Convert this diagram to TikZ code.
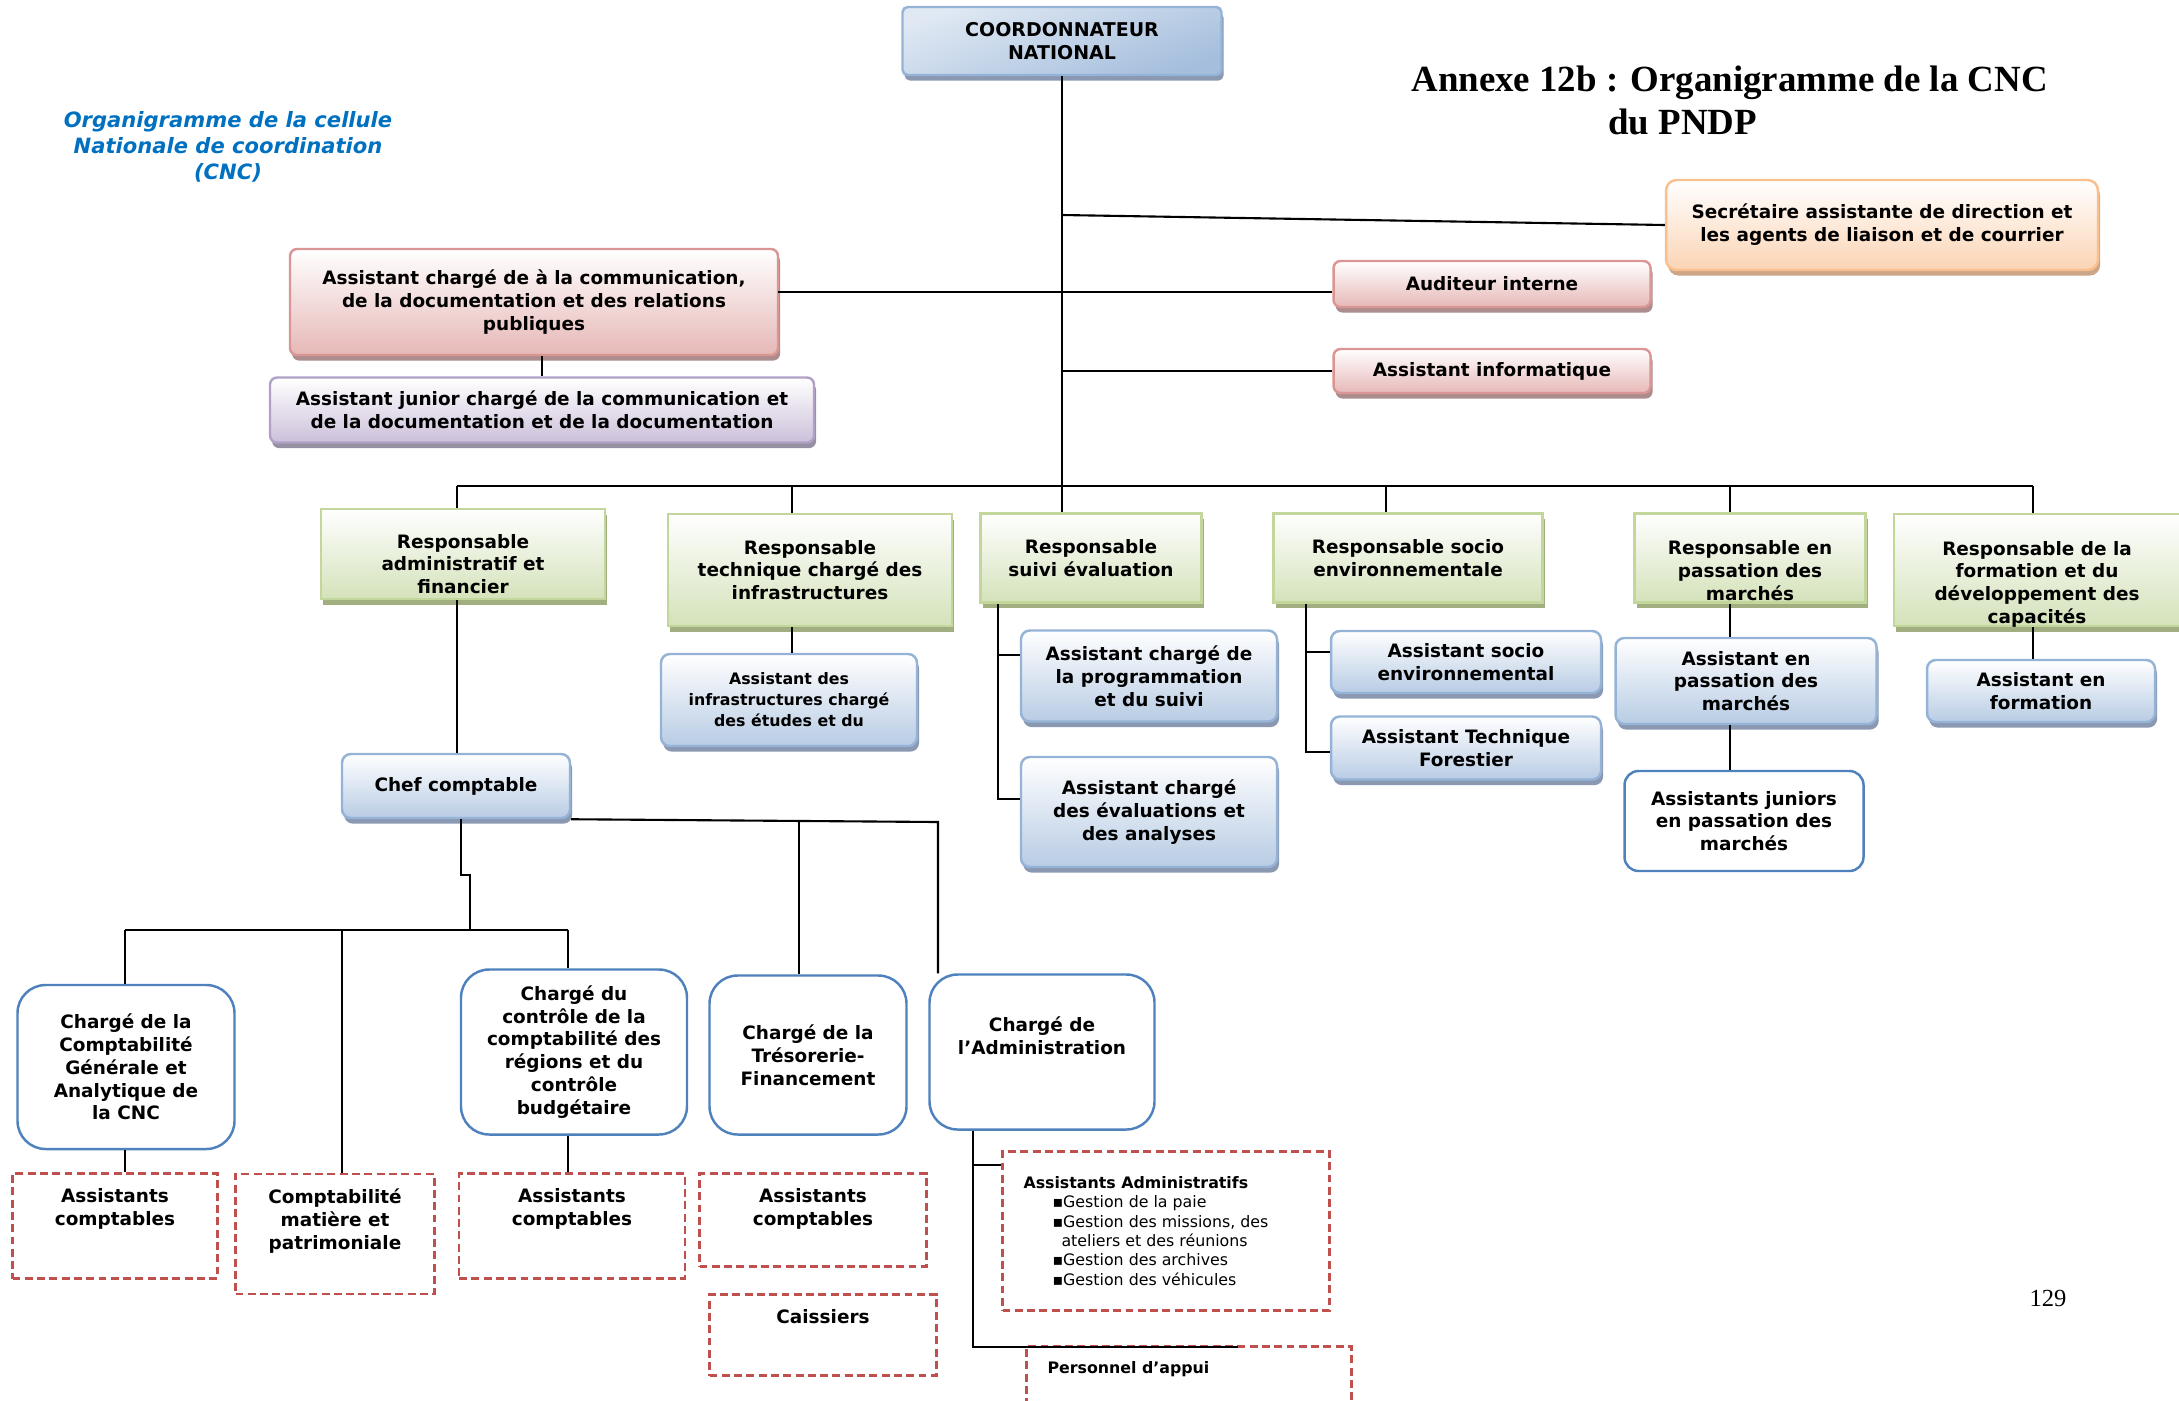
\documentclass[tikz,border=0pt]{standalone}
\usepackage{fontspec}
\setmainfont{DejaVu Sans}
\newfontfamily\titrefont{Liberation Serif}
\usetikzlibrary{shadows}

\definecolor{vertB}{RGB}{195,214,155}
\definecolor{vertF}{RGB}{212,226,186}
\definecolor{vertO}{RGB}{160,174,128}
\definecolor{bleuB}{RGB}{149,179,215}
\definecolor{bleuF}{RGB}{184,204,228}
\definecolor{bleuO}{RGB}{138,152,178}
\definecolor{roseB}{RGB}{217,150,148}
\definecolor{roseF}{RGB}{230,184,183}
\definecolor{roseO}{RGB}{172,140,140}
\definecolor{violB}{RGB}{178,161,199}
\definecolor{violF}{RGB}{204,192,218}
\definecolor{violO}{RGB}{150,145,162}
\definecolor{oranB}{RGB}{250,191,143}
\definecolor{oranF}{RGB}{251,212,180}
\definecolor{oranO}{RGB}{205,165,135}
\definecolor{cadre}{RGB}{79,129,189}
\definecolor{rouge}{RGB}{192,80,77}
\definecolor{titreB}{RGB}{0,112,192}

% texte en haut d'une boite (largeur, hauteur, marge en px)
\newcommand{\enhaut}[4]{\parbox[c][\dimexpr0.02cm*#2\relax][t]{\dimexpr0.02cm*#1\relax}{\centering\vspace*{\dimexpr0.02cm*#3\relax}#4}}

\tikzset{
  dim/.style 2 args={minimum width=#1*0.02cm, minimum height=#2*0.02cm},
  boite/.style={align=center, inner sep=2pt, line width=1.4pt},
  ombre/.style={drop shadow={shadow xshift=1.2pt, shadow yshift=-3.2pt, fill=#1, opacity=1}},
  vert/.style={boite, draw=vertB, top color=white, bottom color=vertF, ombre=vertO},
  bleu/.style={boite, rounded corners=5pt, draw=bleuB, top color=white, bottom color=bleuF, ombre=bleuO},
  rose/.style={boite, rounded corners=4pt, draw=roseB, top color=white, bottom color=roseF, ombre=roseO},
  viol/.style={boite, rounded corners=4pt, draw=violB, top color=white, bottom color=violF, ombre=violO},
  oran/.style={boite, rounded corners=6pt, draw=oranB, top color=white, bottom color=oranF, ombre=oranO},
  charge/.style={boite, rounded corners=16pt, draw=cadre, fill=white},
  pointille/.style={draw=rouge, dash pattern=on 4.5pt off 2.5pt, line width=1.5pt, inner sep=0pt},
  lien/.style={line width=1.2pt},
}

\begin{document}
\begin{tikzpicture}[x=0.02cm, y=-0.02cm, font=\fontsize{10.5}{13}\selectfont\bfseries]
\useasboundingbox (0,0) rectangle (2179,1400);

% titres
\node[align=center, text=titreB, font=\fontsize{12}{14.7}\selectfont\bfseries\itshape] (leg) at (228,147)
  {Organigramme de la cellule\\Nationale de coordination\\(CNC)};
\node[anchor=west, align=left, inner sep=0pt, font=\titrefont\fontsize{21}{24.5}\selectfont\bfseries] (titre) at (1411,100)
  {Annexe 12b : Organigramme de la CNC\\\hspace*{3.94cm}du PNDP};
\node[font=\titrefont\fontsize{14}{16}\selectfont] (page) at (2048,1298) {129};

% direction
\node[bleu, rounded corners=3pt, dim={319}{68}, top color=bleuF!45, bottom color=bleuB!85, shading angle=20,
  font=\fontsize{10.8}{13}\selectfont\bfseries] (cn) at (1062,41) {COORDONNATEUR\\NATIONAL};
\node[oran, dim={432}{90}] (sec) at (1882,225) {Secrétaire assistante de direction et\\les agents de liaison et de courrier};
\node[rose, dim={317}{46}] (aud) at (1492,284) {Auditeur interne};
\node[rose, dim={317}{44}] (inf) at (1492,371) {Assistant informatique};
\node[rose, dim={488}{106}] (com) at (534,302) {Assistant chargé de à la communication,\\de la documentation et des relations\\publiques};
\node[viol, dim={544}{65}] (jun) at (542,410) {Assistant junior chargé de la communication et\\de la documentation et de la documentation};

% responsables
\node[vert, inner sep=0pt] (ra) at (463,554) {\enhaut{284}{90}{25}{Responsable\\administratif et\\financier}};
\node[vert, dim={284}{112}] (rt) at (810,570) {Responsable\\technique chargé des\\infrastructures};
\node[vert, dim={221}{89}] (rs) at (1091,558) {Responsable\\suivi évaluation};
\node[vert, dim={269}{89}] (re) at (1408,558) {Responsable socio\\environnementale};
\node[vert, inner sep=0pt] (rp) at (1750,558) {\enhaut{231}{89}{27}{Responsable en\\passation des\\marchés}};
\node[vert, inner sep=0pt] (rf) at (2037,570) {\enhaut{286}{112}{27}{Responsable de la\\formation et du\\développement des\\capacités}};

% assistants
\node[bleu, dim={256}{92}, font=\fontsize{9}{12}\selectfont\bfseries] (ai) at (789,700) {Assistant des\\infrastructures chargé\\des études et du};
\node[bleu, dim={256}{91}] (ap) at (1149,676) {Assistant chargé de\\la programmation\\et du suivi};
\node[bleu, dim={256}{110}] (av) at (1149,812) {Assistant chargé\\des évaluations et\\des analyses};
\node[bleu, dim={270}{62}] (as) at (1466,662) {Assistant socio\\environnemental};
\node[bleu, dim={270}{63}] (atf) at (1466,748) {Assistant Technique\\Forestier};
\node[bleu, dim={261}{86}] (apm) at (1746,681) {Assistant en\\passation des\\marchés};
\node[bleu, dim={228}{62}] (af) at (2041,691) {Assistant en\\formation};
\node[boite, draw=cadre, fill=white, rounded corners=8pt, dim={239}{100}] (jp) at (1744,821) {Assistants juniors\\en passation des\\marchés};
\node[bleu, dim={228}{64}] (cc) at (456,786) {Chef comptable};

% charges
\node[charge, dim={217}{164}] (cg) at (126,1067) {Chargé de la\\Comptabilité\\Générale et\\Analytique de\\la CNC};
\node[charge, dim={226}{165}] (cr) at (574,1052) {Chargé du\\contrôle de la\\comptabilité des\\régions et du\\contrôle\\budgétaire};
\node[charge, dim={197}{159}] (ct) at (808,1055) {Chargé de la\\Trésorerie-\\Financement};
\node[charge, inner sep=0pt] (ca) at (1042,1052) {\enhaut{225}{155}{42}{Chargé de\\l’Administration}};

% cadres pointilles
\node[pointille] (ac1) at (115,1226) {\enhaut{205}{105}{15}{Assistants\\comptables}};
\node[pointille] (cm) at (335,1234) {\enhaut{199}{120}{15}{Comptabilité\\matière et\\patrimoniale}};
\node[pointille] (ac2) at (572,1226) {\enhaut{226}{105}{15}{Assistants\\comptables}};
\node[pointille] (ac3) at (813,1220) {\enhaut{227}{93}{15}{Assistants\\comptables}};
\node[pointille] (cs) at (823,1335) {\enhaut{227}{81}{15}{Caissiers}};
\node[pointille] (aa) at (1166,1231) {\parbox[c][\dimexpr0.02cm*159\relax][c]{\dimexpr0.02cm*327\relax}{\raggedright\fontsize{9}{11}\selectfont
  \hspace*{0.42cm}Assistants Administratifs\\\mdseries
  \hspace*{1cm}▪Gestion de la paie\\
  \hspace*{1cm}▪Gestion des missions, des\\
  \hspace*{1.18cm}ateliers et des réunions\\
  \hspace*{1cm}▪Gestion des archives\\
  \hspace*{1cm}▪Gestion des véhicules}};
\node[pointille] (pa) at (1189,1383) {\parbox[c][\dimexpr0.02cm*73\relax][t]{\dimexpr0.02cm*325\relax}{\raggedright\fontsize{9}{11}\selectfont
  \vspace*{0.3cm}\hspace*{0.42cm}Personnel d’appui}};

% liaisons
\coordinate (d1) at (457,486);
\coordinate (d2) at (792,486);
\coordinate (d3) at (1062,486);
\coordinate (d4) at (1386,486);
\coordinate (d5) at (1730,486);
\coordinate (d6) at (2033,486);
\coordinate (s0) at (1062,215);
\coordinate (a0) at (778,292);

\draw[lien] (cn.south) -- (d3);
\draw[lien] (d1) -- (d6);
\foreach \d/\r in {d1/ra, d2/rt, d3/rs, d4/re, d5/rp, d6/rf}
  \draw[lien] (\d) -- (\d |- \r.north);
\draw[lien] (s0) -- (sec.west);
\draw[lien] (a0) -- (a0 -| aud.west);
\draw[lien] (cn.south |- inf.west) -- (inf.west);
\draw[lien] (jun.north) -- (jun.north |- com.south);

\draw[lien] (d1 |- ra.south) -- (d1 |- cc.north);
\draw[lien] (d2 |- rt.south) -- (d2 |- ai.north);

\coordinate (e1) at (998,655);
\coordinate (e2) at (998,799);
\draw[lien] (e1 |- rs.south) -- (e2) -- (e2 -| av.west);
\draw[lien] (e1) -- (e1 -| ap.west);

\coordinate (f1) at (1306,652);
\coordinate (f2) at (1306,752);
\draw[lien] (f1 |- re.south) -- (f2) -- (f2 -| atf.west);
\draw[lien] (f1) -- (f1 -| as.west);

\draw[lien] (d5 |- rp.south) -- (d5 |- apm.north);
\draw[lien] (d5 |- apm.south) -- (d5 |- jp.north);
\draw[lien] (d6 |- rf.south) -- (d6 |- af.north);

% chef comptable
\coordinate (g0) at (461,875);
\coordinate (g1) at (470,930);
\coordinate (h1) at (125,930);
\coordinate (h2) at (342,930);
\coordinate (h3) at (568,930);
\draw[lien] (g0 |- cc.south) -- (g0) -- (g0 -| g1) -- (g1);
\draw[lien] (h1) -- (h3);
\draw[lien] (h1) -- (h1 |- cg.north);
\draw[lien] (h2) -- (h2 |- cm.north);
\draw[lien] (h3) -- (h3 |- cr.north);

\coordinate (k1) at (799,822);
\coordinate (k2) at (938,822);
\draw[lien] (cc.south east) -- (k2) -- (k2 |- ca.north);
\draw[lien] (k1) -- (k1 |- ct.north);

\draw[lien] (h1 |- cg.south) -- (h1 |- ac1.north);
\draw[lien] (h3 |- cr.south) -- (h3 |- ac2.north);

\coordinate (m1) at (973,1165);
\coordinate (m2) at (973,1347);
\coordinate (m3) at (1238,1347);
\draw[lien] (m1 |- ca.south) -- (m2) -- (m3);
\draw[lien] (m1) -- (m1 -| aa.west);

\end{tikzpicture}
\end{document}
